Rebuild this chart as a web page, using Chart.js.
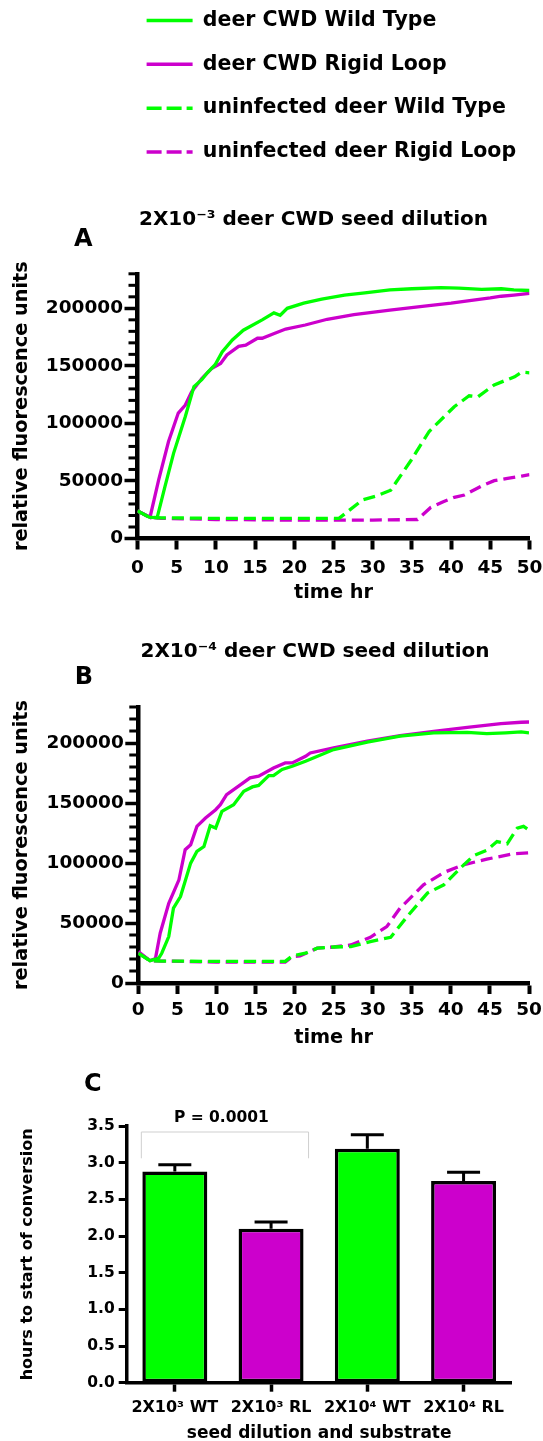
<!DOCTYPE html>
<html><head><meta charset="utf-8">
<script src="https://cdn.jsdelivr.net/npm/chart.js@4.4.1/dist/chart.umd.min.js"></script>
<style>
html,body{margin:0;padding:0;background:#fff;width:543px;height:1441px;overflow:hidden;}
#wrap{position:relative;width:543px;height:1441px;overflow:hidden;background:#fff;}
canvas{position:absolute;left:0;}
</style></head><body><div id="wrap">
<canvas id="legendChart" width="1400" height="200" style="top:-13px"></canvas>
<canvas id="chartA" width="627" height="420" style="top:190px"></canvas>
<canvas id="chartB" width="630" height="440" style="top:615px"></canvas>
<canvas id="chartC" width="543" height="405" style="top:1045px"></canvas>
</div>
<script>
// ---------- DATA ----------
const seriesLabels = ['deer CWD Wild Type', 'deer CWD Rigid Loop', 'uninfected deer Wild Type', 'uninfected deer Rigid Loop'];

// Panel A: 2X10^-3 dilution
const timeA_cwdWT = [0, 1.5, 2.5, 3.5, 4.6, 6.1, 7.2, 8.2, 8.9, 9.9, 10.8, 12.1, 13.5, 15.9, 17.4, 18.2, 19.1, 21.2, 23.5, 26.4, 29, 32.2, 35, 38.7, 41, 43.9, 46.4, 48, 50];
const rfuA_cwdWT  = [24000, 18500, 18000, 45000, 74000, 106000, 132000, 138000, 144000, 151000, 162000, 172500, 181000, 190000, 196000, 194000, 200000, 204500, 208000, 211500, 213500, 216000, 217000, 218000, 217500, 216500, 217000, 216000, 215500];
const timeA_cwdRL = [0, 1.6, 2.7, 3.95, 5.2, 6.1, 6.9, 8.2, 9.5, 10.6, 11.4, 12.9, 13.8, 15.3, 15.9, 17.6, 18.9, 21.4, 24.2, 27.6, 32.2, 36.6, 40, 42.6, 45, 46.4, 48, 50];
const rfuA_cwdRL  = [24000, 18500, 51000, 84000, 109000, 116000, 127500, 139000, 148000, 152000, 159500, 167000, 168000, 174000, 174000, 178500, 182000, 185500, 190500, 194500, 198500, 202000, 204500, 207000, 209000, 210500, 211500, 213000];
const timeA_unWT  = [0, 1.5, 3, 10, 20, 25.7, 28.7, 30.5, 32.3, 34.9, 37.2, 40.4, 42.3, 43.4, 45.5, 48.1, 49, 50];
const rfuA_unWT   = [24000, 18500, 18000, 17500, 17500, 17500, 33500, 37000, 42000, 68000, 93000, 114500, 124000, 123000, 133500, 140500, 144500, 144000];
const timeA_unRL  = [0, 1.5, 3, 10, 20, 30, 35.7, 37.4, 39, 40.4, 41.7, 43.9, 45.5, 47.2, 49, 50];
const rfuA_unRL   = [24000, 18500, 17500, 16500, 16000, 16000, 16500, 27000, 32000, 35800, 37800, 45700, 50300, 52300, 54300, 55500];

// Panel B: 2X10^-4 dilution
const timeB_cwdWT = [0, 1.5, 2.6, 3.0, 3.9, 4.5, 5.4, 6.7, 7.5, 8.4, 9.2, 9.9, 10.7, 12.2, 13.5, 14.6, 15.4, 16.7, 17.3, 18.4, 19.7, 21.4, 25, 29.3, 33.5, 37.8, 42.1, 44.6, 47, 49, 50];
const rfuB_cwdWT  = [24800, 18600, 20500, 24800, 38700, 62400, 72100, 99900, 109600, 113700, 131100, 129200, 143000, 148600, 159700, 163400, 164600, 172800, 172800, 177900, 180600, 184800, 194500, 200700, 205700, 208400, 208900, 207800, 208500, 209300, 208500];
const timeB_cwdRL = [0, 1.5, 2.2, 2.8, 3.9, 5.2, 6.0, 6.7, 7.5, 8.6, 9.9, 10.5, 11.3, 13.1, 14.3, 15.4, 17.3, 18.8, 19.7, 21.4, 22.0, 25, 29.3, 33.5, 37.8, 42.1, 46.4, 49, 50];
const rfuB_cwdRL  = [26200, 18600, 20500, 41500, 66400, 86000, 111100, 115200, 130500, 137500, 144400, 148600, 156900, 165300, 170900, 172300, 179200, 183400, 183400, 188900, 191700, 195900, 201500, 206200, 209700, 213100, 216200, 217300, 217500];
const timeB_unWT  = [0, 1.5, 3, 10, 18.8, 19.7, 21.4, 22.9, 25, 27.2, 29.7, 32.3, 34.4, 37.0, 39.1, 41.2, 42.9, 44.6, 45.9, 47.2, 48.5, 49.3, 50];
const rfuB_unWT   = [24800, 18600, 18300, 18000, 18000, 22500, 24800, 29000, 30000, 30400, 34500, 38100, 55300, 74900, 81800, 95700, 106000, 110700, 117900, 116000, 129100, 130500, 127500];
const timeB_unRL  = [0, 1.5, 3, 10, 18.8, 19.7, 20.7, 22.9, 25, 27.2, 29.7, 31.8, 33.5, 36.5, 39.1, 41.6, 44.6, 48, 50];
const rfuB_unRL   = [25500, 18600, 18300, 17500, 17500, 22000, 22500, 29000, 30000, 31700, 38100, 47000, 62400, 81800, 92100, 98500, 103200, 107700, 108500];

// Panel C: hours to start of conversion
const categoriesC = ['2X10\u00B3 WT', '2X10\u00B3 RL', '2X10\u2074 WT', '2X10\u2074 RL'];
const hoursC = [2.88, 2.10, 3.19, 2.75];
const semC   = [0.09, 0.09, 0.19, 0.12];
const pValueText = 'P = 0.0001';

// ---------- STYLE ----------
const GREEN = '#00ff00', MAGENTA = '#cc00cc';
const FONT = "'DejaVu Sans'";
Chart.defaults.font.family = FONT;
Chart.defaults.font.weight = 'bold';
Chart.defaults.color = '#000';
const seriesColors = [GREEN, MAGENTA, GREEN, MAGENTA];
const seriesDash = [[], [], [12, 6], [12, 6]];
const legendDash = [[], [], [15, 5], [15, 5]];
const MAJOR = 50000, MINOR = 10000;

// ---------- PLUGINS ----------
const minorTicks = {
  id: 'minorTicks',
  afterDraw(chart, args, opts) {
    if (!opts || !opts.length) return;
    const s = chart.scales.y, ctx = chart.ctx;
    ctx.save();
    ctx.strokeStyle = '#000';
    ctx.lineWidth = opts.width;
    s.ticks.forEach(t => {
      if (Math.abs(t.value % MAJOR) < 1e-6) return;
      const y = s.getPixelForValue(t.value);
      ctx.beginPath();
      ctx.moveTo(s.right - opts.length, y);
      ctx.lineTo(s.right, y);
      ctx.stroke();
    });
    ctx.restore();
  }
};
const annot = {
  id: 'annot',
  afterDraw(chart, args, opts) {
    if (!opts || !opts.texts) return;
    const ctx = chart.ctx;
    ctx.save();
    ctx.fillStyle = '#000';
    ctx.textAlign = 'center';
    ctx.textBaseline = 'middle';
    opts.texts.forEach(t => {
      ctx.font = 'bold ' + t.size + 'px ' + FONT;
      ctx.fillText(t.text, t.x, t.y);
    });
    ctx.restore();
  }
};
const errorBars = {
  id: 'errorBars',
  afterDatasetsDraw(chart, args, opts) {
    if (!opts || !opts.errors) return;
    const ctx = chart.ctx, ys = chart.scales.y;
    const meta = chart.getDatasetMeta(0);
    const vals = chart.data.datasets[0].data;
    ctx.save();
    ctx.strokeStyle = '#000';
    ctx.lineWidth = opts.width;
    meta.data.forEach((bar, i) => {
      const yb = ys.getPixelForValue(vals[i]);
      const yt = ys.getPixelForValue(vals[i] + opts.errors[i]);
      ctx.beginPath();
      ctx.moveTo(bar.x, yb); ctx.lineTo(bar.x, yt);
      ctx.moveTo(bar.x - opts.cap / 2, yt); ctx.lineTo(bar.x + opts.cap / 2, yt);
      ctx.stroke();
    });
    if (opts.bracket) {
      const b = opts.bracket;
      const b1 = meta.data[b.from], b2 = meta.data[b.to];
      const x1 = b1.x - b1.width / 2 - 1, x2 = b2.x + b2.width / 2 + 5;
      ctx.strokeStyle = b.color;
      ctx.lineWidth = 1;
      ctx.beginPath();
      ctx.moveTo(x1, b.legBottom); ctx.lineTo(x1, b.top); ctx.lineTo(x2, b.top); ctx.lineTo(x2, b.legBottom);
      ctx.stroke();
      ctx.fillStyle = '#000';
      ctx.font = 'bold ' + b.size + 'px ' + FONT;
      ctx.textAlign = 'center';
      ctx.textBaseline = 'middle';
      ctx.fillText(b.text, b.textX, b.textY);
    }
    ctx.restore();
  }
};
Chart.register(minorTicks, annot, errorBars);

// ---------- LEGEND ----------
new Chart(document.getElementById('legendChart'), {
  type: 'line',
  data: { datasets: seriesLabels.map((l, i) => ({ label: l, data: [], borderColor: seriesColors[i], borderWidth: 3.5, borderDash: legendDash[i] })) },
  options: {
    responsive: false, animation: false,
    layout: { padding: { left: 123.3, top: 0, right: 0, bottom: 0 } },
    scales: { x: { display: false }, y: { display: false } },
    plugins: {
      tooltip: { enabled: false },
      legend: {
        display: true, position: 'left', align: 'start', maxWidth: 1000,
        labels: {
          usePointStyle: true, pointStyle: 'line', pointStyleWidth: 46, boxHeight: 20,
          padding: 23.3, color: '#000', font: { size: 20.5, weight: 'bold' },
          generateLabels: (chart) => chart.data.datasets.map((ds, i) => ({
            text: ds.label, fillStyle: ds.borderColor, strokeStyle: ds.borderColor,
            lineWidth: ds.borderWidth, lineDash: ds.borderDash, lineCap: 'butt',
            pointStyle: 'line', fontColor: '#000', hidden: false, datasetIndex: i
          }))
        }
      }
    }
  }
});

// ---------- LINE PANELS ----------
function makeDatasets(pairs) {
  return pairs.map((p, i) => ({
    label: seriesLabels[i],
    data: p[0].map((t, j) => ({ x: t, y: p[1][j] })),
    borderColor: seriesColors[i], backgroundColor: seriesColors[i],
    borderWidth: 3.3, borderDash: seriesDash[i], pointRadius: 0, tension: 0, fill: false
  }));
}
function panelOptions(g) {
  const aSize = 19.3, aLH = aSize * 1.2;
  const bottomPage = g.canvasTop + g.canvasH;
  const isMajor = v => Math.abs(v % MAJOR) < 1e-6;
  return {
    responsive: false, animation: false,
    layout: { padding: { left: 0, right: g.canvasW - g.areaRight, top: g.areaTop - g.canvasTop, bottom: 0 } },
    plugins: {
      legend: { display: false }, tooltip: { enabled: false }, title: { display: false },
      minorTicks: { length: 9, width: 3 },
      annot: { texts: [
        { text: g.title, x: g.titleCX, y: g.titleCY - g.canvasTop, size: 20 },
        { text: g.letter, x: g.letterX, y: g.letterY - g.canvasTop, size: 24 }
      ] }
    },
    scales: {
      x: {
        type: 'linear', min: 0, max: 50,
        afterFit: s => { s.height = bottomPage - g.areaBottom; },
        ticks: { stepSize: 5, padding: g.tickPad, font: { size: 18.5 }, color: '#000', maxRotation: 0, autoSkip: false, callback: v => String(v) },
        grid: { drawOnChartArea: false, tickLength: 11, tickWidth: 4, tickColor: '#000' },
        border: { display: true, color: '#000', width: 4.5 },
        title: { display: true, text: 'time hr', color: '#000', font: { size: aSize, weight: 'bold' }, padding: { top: 0, bottom: bottomPage - aLH / 2 - g.xTitleCY } }
      },
      y: {
        type: 'linear', min: 0, max: 230000,
        afterFit: s => { s.width = g.areaLeft; },
        ticks: { stepSize: MINOR, padding: 1.5, font: { size: 18.5 }, color: '#000', autoSkip: false,
          callback: v => isMajor(v) ? String(v) : '' },
        grid: { drawOnChartArea: false, tickLength: 13, tickWidth: 3.5,
          tickColor: ctx => (ctx.tick && isMajor(ctx.tick.value)) ? '#000' : 'rgba(0,0,0,0)' },
        border: { display: true, color: '#000', width: 4.5 },
        title: { display: true, text: 'relative fluorescence units', color: '#000', font: { size: aSize, weight: 'bold' }, padding: { top: g.yTitleCX - aLH / 2, bottom: 0 } }
      }
    }
  };
}

new Chart(document.getElementById('chartA'), {
  type: 'line',
  data: { datasets: makeDatasets([[timeA_cwdWT, rfuA_cwdWT], [timeA_cwdRL, rfuA_cwdRL], [timeA_unWT, rfuA_unWT], [timeA_unRL, rfuA_unRL]]) },
  options: panelOptions({ canvasTop: 190, canvasH: 420, canvasW: 627, areaLeft: 137.5, areaRight: 529.5, areaTop: 273.8, areaBottom: 538.5,
    title: '2X10\u207B\u00B3 deer CWD seed dilution', titleCX: 313.5, titleCY: 219.5, xTitleCY: 593.3, yTitleCX: 21.5, tickPad: 8,
    letter: 'A', letterX: 83.4, letterY: 240 })
});

new Chart(document.getElementById('chartB'), {
  type: 'line',
  data: { datasets: makeDatasets([[timeB_cwdWT, rfuB_cwdWT], [timeB_cwdRL, rfuB_cwdRL], [timeB_unWT, rfuB_unWT], [timeB_unRL, rfuB_unRL]]) },
  options: panelOptions({ canvasTop: 615, canvasH: 440, canvasW: 630, areaLeft: 138.3, areaRight: 529, areaTop: 707, areaBottom: 983,
    title: '2X10\u207B\u2074 deer CWD seed dilution', titleCX: 315, titleCY: 651.7, xTitleCY: 1038.3, yTitleCX: 21.5, tickPad: 5,
    letter: 'B', letterX: 84, letterY: 677.5 })
});

// ---------- BAR PANEL C ----------
(function () {
  const cTop = 1045, cH = 405, areaLeft = 126.7, areaRight = 511.7, areaTop = 1126, areaBottom = 1382.7;
  const bottomPage = cTop + cH;
  new Chart(document.getElementById('chartC'), {
    type: 'bar',
    data: {
      labels: categoriesC,
      datasets: [{ label: 'hours', data: hoursC, backgroundColor: [GREEN, MAGENTA, GREEN, MAGENTA], borderColor: '#000', borderWidth: 3.5, borderSkipped: false, barPercentage: 0.75, categoryPercentage: 0.9 }]
    },
    options: {
      responsive: false, animation: false,
      layout: { padding: { left: 0, right: 543 - areaRight, top: areaTop - cTop, bottom: 0 } },
      plugins: {
        legend: { display: false }, tooltip: { enabled: false },
        annot: { texts: [{ text: 'C', x: 92.9, y: 1085 - cTop, size: 24 }] },
        errorBars: { errors: semC, width: 3, cap: 33,
          bracket: { from: 0, to: 1, top: 1132 - cTop, legBottom: 1158.3 - cTop, color: '#cfcfcf', text: pValueText, textX: 221.4, textY: 1118.3 - cTop, size: 15.5 } }
      },
      scales: {
        x: {
          afterFit: s => { s.height = bottomPage - areaBottom; },
          ticks: { font: { size: 16 }, padding: 6.7, color: '#000', maxRotation: 0, autoSkip: false },
          grid: { offset: false, drawOnChartArea: false, tickLength: 9, tickWidth: 3.5, tickColor: '#000' },
          border: { display: true, color: '#000', width: 3.5 },
          title: { display: true, text: 'seed dilution and substrate', color: '#000', font: { size: 17, weight: 'bold' }, padding: { top: 0, bottom: bottomPage - 10.2 - 1434 } }
        },
        y: {
          min: 0, max: 3.5,
          afterFit: s => { s.width = areaLeft; },
          ticks: { stepSize: 0.5, padding: 4, font: { size: 15.5 }, color: '#000', callback: v => v.toFixed(1) },
          grid: { drawOnChartArea: false, tickLength: 8, tickWidth: 3, tickColor: '#000' },
          border: { display: true, color: '#000', width: 3.5 },
          title: { display: true, text: 'hours to start of conversion', color: '#000', font: { size: 16, weight: 'bold' }, padding: { top: 27.4 - 9.6, bottom: 0 } }
        }
      }
    }
  });
})();
</script>
</body></html>
